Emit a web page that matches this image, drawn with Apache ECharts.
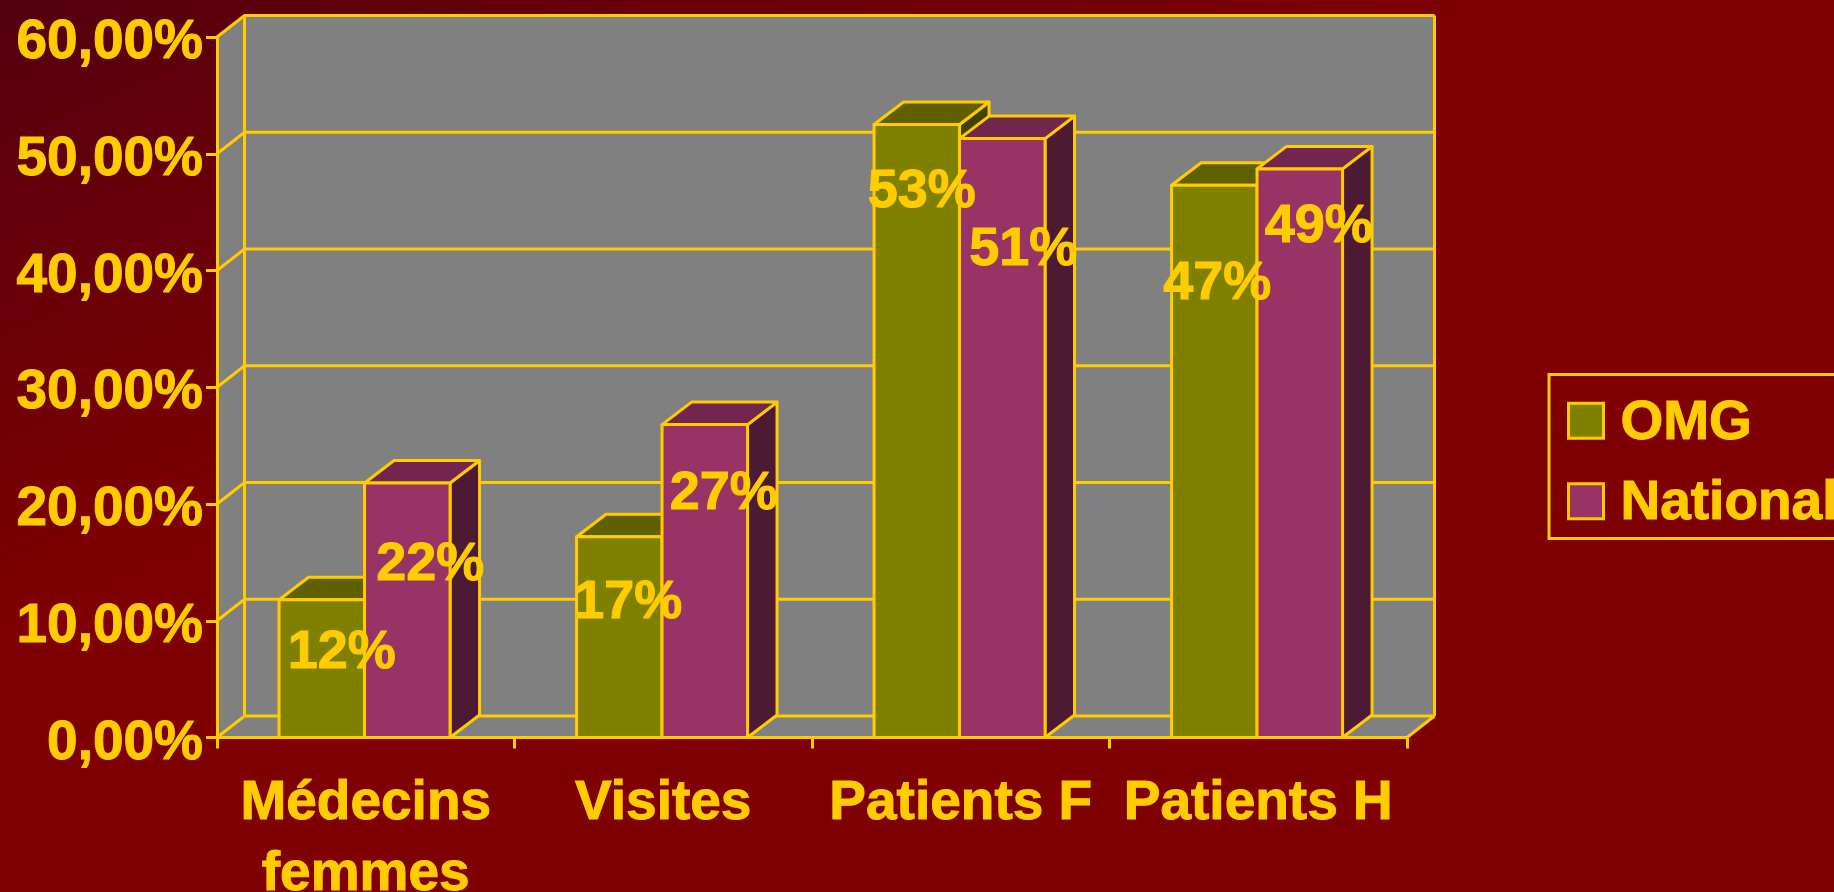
<!DOCTYPE html>
<html><head><meta charset="utf-8">
<style>html,body{margin:0;padding:0;width:100%;height:100%;overflow:hidden;background:#7f0000}#c{width:1834px;height:892px}</style>
<script src="https://cdn.jsdelivr.net/npm/echarts@6/dist/echarts.min.js"></script>
</head><body><div id="c"></div>
<script>
const categories = ['Médecins\nfemmes', 'Visites', 'Patients F', 'Patients H'];
const omgValues = [11.8, 17.2, 52.5, 47.3];
const nationalValues = [21.8, 26.8, 51.3, 48.7];
const yTicks = [0, 10, 20, 30, 40, 50, 60];
const seriesNames = ['OMG', 'National'];

const YELLOW = '#FFCC00', FONT = '"Liberation Sans", Arial, sans-serif', FS = 55;
const WALL_DX = 27.5, WALL_DY = -21.5, BAR_DX = 29.5, BAR_DY = -22.5, BAR_W = 85.5, BAR_SHIFT = -1.2, LW = 3;
const HEAVY = {textBorderColor: YELLOW, textBorderWidth: 1};
const lineStyle = {stroke: YELLOW, lineWidth: LW, fill: null};
// label anchors relative to each bar's front-face centre (x) and absolute (y), in pixels
const omgNudge = [[20, 0], [9, 0], [5, 0], [3, 0]];
const nationalNudge = [[23, 0], [19, 0], [21, 0], [19, 0]];
const omgLabelY = [653, 603, 192, 284];
const nationalLabelY = [565, 494, 250, 227.5];

function bar3d(values, side, palette, nudge, labelY, order) {
  return function (params, api) {
    const i = params.dataIndex;
    const c = api.coord([i, values[i]]);
    const b = api.coord([i, 0]);
    const cx = c[0] + BAR_SHIFT;
    const x0 = side < 0 ? cx - BAR_W : cx, x1 = x0 + BAR_W;
    const y = c[1], y0 = b[1];
    const poly = (pts, fill) => ({type: 'polygon', z2: order,
      shape: {points: pts}, style: {fill, stroke: YELLOW, lineWidth: LW, lineJoin: 'round'}});
    return {type: 'group', children: [
      poly([[x1, y0], [x1 + BAR_DX, y0 + BAR_DY], [x1 + BAR_DX, y + BAR_DY], [x1, y]], palette.side),
      poly([[x0, y], [x0 + BAR_DX, y + BAR_DY], [x1 + BAR_DX, y + BAR_DY], [x1, y]], palette.top),
      poly([[x0, y0], [x1, y0], [x1, y], [x0, y]], palette.front),
      {type: 'text', z2: 100, x: (x0 + x1) / 2 + nudge[i][0], y: labelY[i],
        style: {text: Math.round(values[i]) + '%', fill: YELLOW, font: 'bold 54px ' + FONT,
          stroke: YELLOW, lineWidth: 1, align: 'center', verticalAlign: 'middle'}}
    ]};
  };
}

function walls(params, api) {
  const DX = WALL_DX, DY = WALL_DY;
  const n = categories.length;
  const bandL = api.coord([0, 0])[0] - api.size([1, 0])[0] / 2;
  const bandR = api.coord([n - 1, 0])[0] + api.size([1, 0])[0] / 2;
  const yb = api.coord([0, yTicks[0]])[1];
  const yt = api.coord([0, yTicks[yTicks.length - 1]])[1];
  const fill = '#808080';
  const ch = [
    {type: 'polygon', shape: {points: [[bandL + DX, yb + DY], [bandR + DX, yb + DY], [bandR + DX, yt + DY], [bandL + DX, yt + DY]]}, style: {fill}},
    {type: 'polygon', shape: {points: [[bandL, yb], [bandL + DX, yb + DY], [bandL + DX, yt + DY], [bandL, yt]]}, style: {fill}},
    {type: 'polygon', shape: {points: [[bandL, yb], [bandR, yb], [bandR + DX, yb + DY], [bandL + DX, yb + DY]]}, style: {fill}}
  ];
  yTicks.forEach(t => {
    const y = api.coord([0, t])[1];
    ch.push({type: 'polyline', shape: {points: [[bandL, y], [bandL + DX, y + DY], [bandR + DX, y + DY]]}, style: lineStyle});
  });
  ch.push({type: 'line', shape: {x1: bandL + DX, y1: yb + DY, x2: bandL + DX, y2: yt + DY}, style: lineStyle});
  ch.push({type: 'line', shape: {x1: bandR + DX, y1: yb + DY, x2: bandR + DX, y2: yt + DY}, style: lineStyle});
  ch.push({type: 'line', shape: {x1: bandR, y1: yb, x2: bandR + DX, y2: yb + DY}, style: lineStyle});
  return {type: 'group', children: ch};
}

const chart = echarts.init(document.getElementById('c'), null, {renderer: 'canvas'});
chart.setOption({
  animation: false,
  backgroundColor: {type: 'linear', x: 0, y: 0, x2: 235, y2: 549, global: true,
    colorStops: [{offset: 0, color: '#55000f'}, {offset: 1, color: '#7f0000'}]},
  textStyle: {fontFamily: FONT},
  grid: {left: 217, top: 37, width: 1190, height: 700.5, containLabel: false, outerBoundsMode: 'none'},
  legend: {
    orient: 'vertical', left: 1549, top: 374.5, padding: [17.75, 5, 6.25, 18], itemGap: 21,
    itemWidth: 35, itemHeight: 35, icon: 'rect',
    borderColor: YELLOW, borderWidth: LW,
    formatter: '{s| }\n{t|{name}}',
    textStyle: {color: YELLOW, fontSize: FS, fontWeight: 'bold', fontFamily: FONT, ...HEAVY,
      rich: {
        s: {fontSize: 1, lineHeight: 6},
        t: {color: YELLOW, fontSize: FS, fontWeight: 'bold', fontFamily: FONT, padding: [0, 0, 0, 12], ...HEAVY}
      }},
    data: [
      {name: seriesNames[0], itemStyle: {color: '#808000', borderColor: YELLOW, borderWidth: LW}},
      {name: seriesNames[1], itemStyle: {color: '#993366', borderColor: YELLOW, borderWidth: LW}}
    ]
  },
  xAxis: {type: 'category', data: categories, z: 3,
    axisLine: {lineStyle: {color: YELLOW, width: LW}},
    axisTick: {show: true, length: 11, alignWithLabel: false, lineStyle: {color: YELLOW, width: LW}},
    axisLabel: {interval: 0, color: YELLOW, fontSize: FS, fontWeight: 'bold', fontFamily: FONT, margin: 31, lineHeight: 71, ...HEAVY},
    splitLine: {show: false}
  },
  yAxis: {type: 'value', min: 0, max: 60, interval: 10, z: 3,
    axisLine: {show: true, lineStyle: {color: YELLOW, width: LW}},
    axisTick: {show: true, length: 11, lineStyle: {color: YELLOW, width: LW}},
    axisLabel: {color: YELLOW, fontSize: FS, fontWeight: 'bold', fontFamily: FONT, margin: 14, verticalAlign: 'top', lineHeight: 12, ...HEAVY,
      formatter: v => v.toFixed(2).replace('.', ',') + '%'},
    splitLine: {show: false}
  },
  series: [
    {type: 'custom', silent: true, z: 1, coordinateSystem: 'cartesian2d', renderItem: walls, data: [[0, 0]], clip: false, tooltip: {show: false}},
    {type: 'custom', name: seriesNames[0], z: 4, clip: false, coordinateSystem: 'cartesian2d',
      itemStyle: {color: '#808000', borderColor: YELLOW, borderWidth: LW},
      renderItem: bar3d(omgValues, -1, {front: '#808000', top: '#606000', side: '#404000'}, omgNudge, omgLabelY, 1),
      data: omgValues.map((v, i) => [i, v])},
    {type: 'custom', name: seriesNames[1], z: 4, clip: false, coordinateSystem: 'cartesian2d',
      itemStyle: {color: '#993366', borderColor: YELLOW, borderWidth: LW},
      renderItem: bar3d(nationalValues, 1, {front: '#993366', top: '#73264d', side: '#4d1a33'}, nationalNudge, nationalLabelY, 2),
      data: nationalValues.map((v, i) => [i, v])}
  ]
});
</script></body></html>
